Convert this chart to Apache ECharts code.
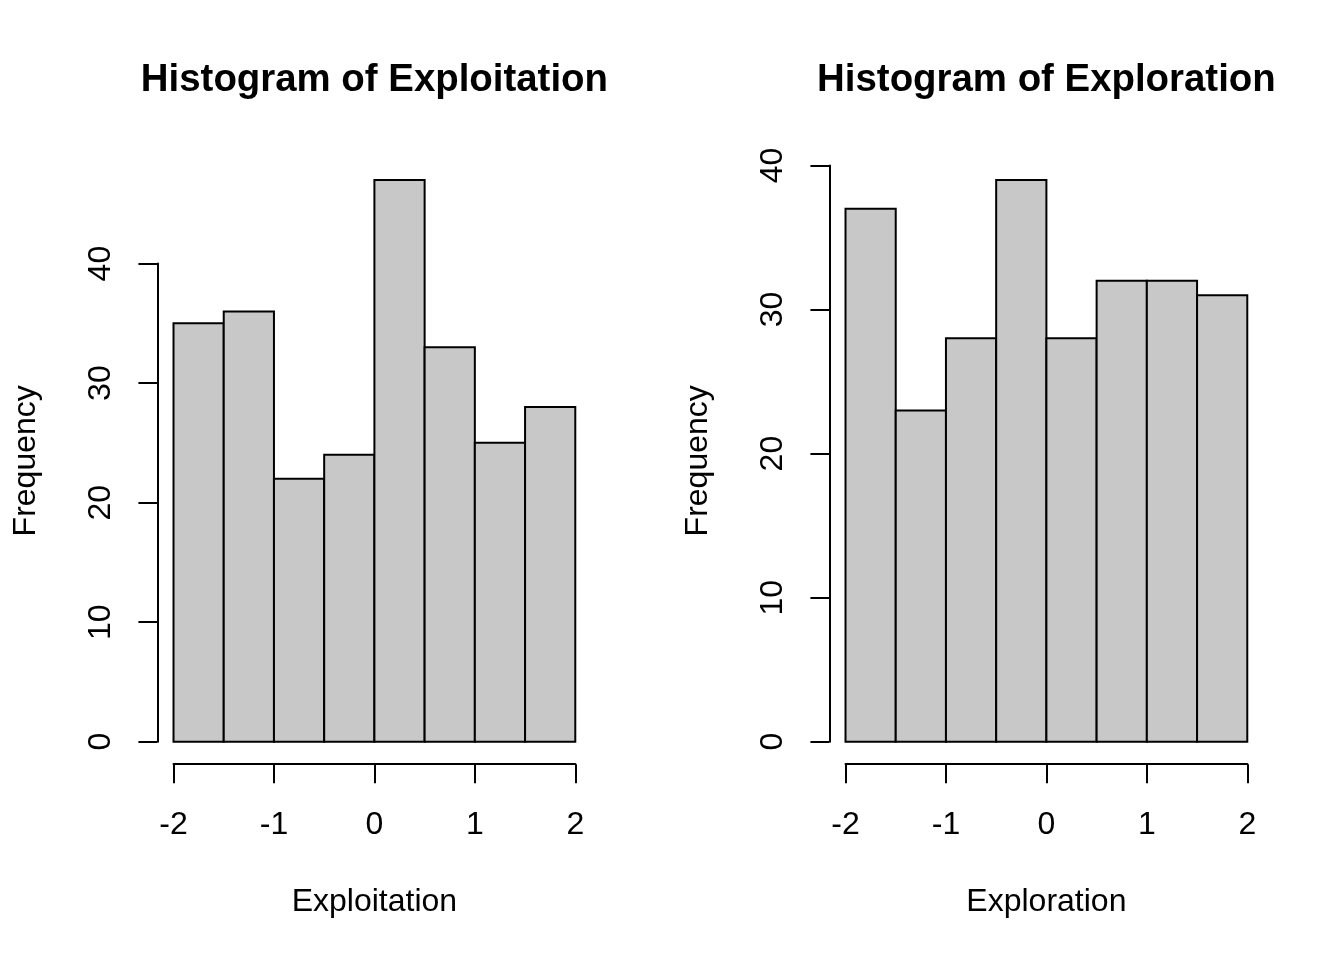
<!DOCTYPE html>
<html>
<head>
<meta charset="utf-8">
<script src="https://cdn.jsdelivr.net/npm/echarts@6/dist/echarts.min.js"></script>
<style>html,body{margin:0;padding:0;background:#fff}#c{width:1344px;height:960px}</style>
</head>
<body>
<div id="c"></div>
<script>
// ---- data ----
const breaks = [-2, -1.5, -1, -0.5, 0, 0.5, 1, 1.5, 2];
const exploitationCounts = [35, 36, 22, 24, 47, 33, 25, 28];
const explorationCounts = [37, 23, 28, 39, 28, 32, 32, 31];
const titles = ['Histogram of Exploitation', 'Histogram of Exploration'];
const xNames = ['Exploitation', 'Exploration'];
const xTicks = [-2, -1, 0, 1, 2];
const yTicks = [0, 10, 20, 30, 40];

// ---- layout (R-like base graphics) ----
const W = 1344, H = 960, LN = 38.4, FS = 32, FONT = 'Liberation Sans';
const panels = [exploitationCounts, explorationCounts];

const grids = [], xAxes = [], yAxes = [], series = [], graphics = [];
panels.forEach((counts, p) => {
  const x0 = p * W / 2 + 4.1 * LN, x1 = (p + 1) * W / 2 - 2.1 * LN;
  const y0 = 4.1 * LN, y1 = H - 5.1 * LN;
  const bMin = breaks[0], bMax = breaks[breaks.length - 1];
  const xr = bMax - bMin, xLo = bMin - 0.04 * xr, xHi = bMax + 0.04 * xr;
  const xpx = v => x0 + (v - xLo) / (xHi - xLo) * (x1 - x0);
  const cMax = Math.max(...counts);
  const yLo = -0.04 * cMax, yHi = 1.04 * cMax;
  const ypx = v => y1 - (v - yLo) / (yHi - yLo) * (y1 - y0);

  // data grid
  const gA = grids.length;
  grids.push({ left: xpx(bMin), right: W - xpx(bMax), top: y0, bottom: H - y1, containLabel: false });
  xAxes.push({
    gridIndex: gA, type: 'value', min: bMin, max: bMax, interval: 1,
    axisLine: { show: true, onZero: false, lineStyle: { color: '#000', width: 2 } },
    axisTick: { show: true, length: 19, lineStyle: { color: '#000', width: 2 } },
    axisLabel: { show: true, margin: 45, fontSize: FS, color: '#000', fontFamily: FONT,
      customValues: xTicks },
    splitLine: { show: false },
    name: xNames[p], nameLocation: 'middle', nameGap: 122,
    nameTextStyle: { fontSize: FS, color: '#000', fontFamily: FONT }
  });
  yAxes.push({
    gridIndex: gA, type: 'value', min: yLo, max: yHi,
    axisLine: { show: false, onZero: false }, axisTick: { show: false }, axisLabel: { show: false },
    splitLine: { show: false },
    name: 'Frequency', nameLocation: 'middle', nameGap: 131,
    nameTextStyle: { fontSize: FS, color: '#000', fontFamily: FONT }
  });
  series.push({
    type: 'custom', xAxisIndex: gA, yAxisIndex: gA,
    data: counts.map((c, i) => [breaks[i], breaks[i + 1], c]),
    encode: { x: [0, 1], y: 2 },
    renderItem: (params, api) => {
      const a = api.coord([api.value(0), 0]);
      const b = api.coord([api.value(1), api.value(2)]);
      return { type: 'rect', shape: { x: a[0], y: b[1], width: b[0] - a[0], height: a[1] - b[1] },
        style: { fill: '#C8C8C8', stroke: '#000', lineWidth: 2 } };
    }
  });

  // y-axis display grid (axis line spans only the tick range)
  const gB = grids.length;
  const tMin = yTicks[0], tMax = yTicks[yTicks.length - 1];
  grids.push({ left: x0, width: 10, top: ypx(tMax), bottom: H - ypx(tMin), containLabel: false });
  xAxes.push({ gridIndex: gB, type: 'value', show: false, min: 0, max: 1 });
  yAxes.push({
    gridIndex: gB, type: 'value', min: tMin, max: tMax, interval: 10,
    axisLine: { show: true, onZero: false, lineStyle: { color: '#000', width: 2 } },
    axisTick: { show: true, length: 19, lineStyle: { color: '#000', width: 2 } },
    axisLabel: { show: true, rotate: 90, margin: 40, fontSize: FS, color: '#000', fontFamily: FONT },
    splitLine: { show: false }
  });

  graphics.push({
    type: 'text', x: (x0 + x1) / 2, y: 80,
    style: { text: titles[p], fontSize: 38.4, fontWeight: 'bold', fontFamily: FONT,
      fill: '#000', align: 'center', verticalAlign: 'middle' }
  });
});

const chart = echarts.init(document.getElementById('c'));
chart.setOption({
  animation: false,
  backgroundColor: '#fff',
  grid: grids, xAxis: xAxes, yAxis: yAxes, series: series,
  graphic: graphics
});
</script>
</body>
</html>
